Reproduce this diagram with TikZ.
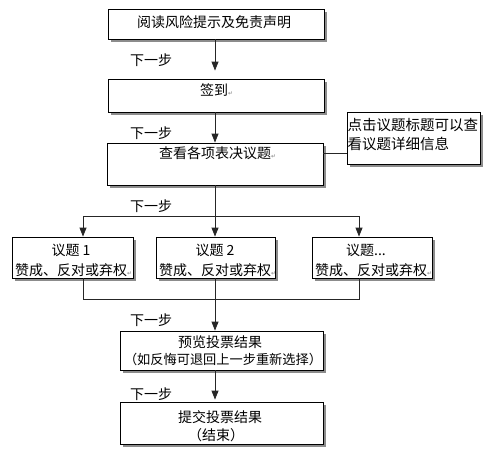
\documentclass[tikz,border=0pt]{standalone}
\usepackage{fontspec}
\usetikzlibrary{shadows,arrows.meta}
\newfontfamily\cjk{Noto Sans CJK SC}
\newfontfamily\symf{DejaVu Sans}
\newcommand{\pmark}{{\symf\fontsize{6}{7}\selectfont\textcolor{gray}{↵}}}
\begin{document}
\begin{tikzpicture}[x=1pt,y=-1pt,
  box/.style={draw=black, line width=0.8pt, fill=white, inner sep=0pt,
    drop shadow={shadow xshift=2.5pt, shadow yshift=-2.5pt, fill=black!45, opacity=1}},
  arr/.style={-{Triangle[width=7pt,length=9pt]}, line width=0.8pt, draw=black!85},
  ln/.style={line width=0.8pt, draw=black!85},
  txt/.style={font=\cjk\fontsize{14}{16}\selectfont, inner sep=0pt},
  ntxt/.style={font=\cjk\fontsize{14.5}{17}\selectfont, inner sep=0pt, anchor=west},
  stxt/.style={font=\cjk\fontsize{13.2}{16}\selectfont, inner sep=0pt}]
\useasboundingbox (0,0) rectangle (489,455);
% boxes
\node[box, minimum width=216pt, minimum height=30pt] (b1) at (216,24) {};
\node[box, minimum width=216pt, minimum height=33pt] (b2) at (216,95.5) {};
\node[box, minimum width=216pt, minimum height=42pt] (b3) at (215,164) {};
\node[box, minimum width=133pt, minimum height=52pt] (n) at (413.5,138) {};
\node[box, minimum width=121pt, minimum height=41pt] (v1) at (72.5,257.5) {};
\node[box, minimum width=119pt, minimum height=41pt] (v2) at (215.5,257.5) {};
\node[box, minimum width=120pt, minimum height=41pt] (v3) at (372,257.5) {};
\node[box, minimum width=203pt, minimum height=39pt] (b4) at (221.5,350.5) {};
\node[box, minimum width=203pt, minimum height=42pt] (b5) at (221.5,423) {};
% texts
\node[txt] (t1) at (214,22) {阅读风险提示及免责声明};
\node[txt, anchor=west] (t2) at (200,90) {签到\pmark};
\node[txt, anchor=west] (t3) at (159,153) {查看各项表决议题\pmark};
\node[ntxt] (n1) at (347.5,125) {点击议题标题可以查};
\node[ntxt] (n2) at (347.5,144) {看议题详细信息};
\node[txt] (v1a) at (71,250) {议题 1};
\node[txt, anchor=west] (v1b) at (15,270) {赞成、反对或弃权\pmark};
\node[txt] (v2a) at (215,250) {议题 2};
\node[txt, anchor=west] (v2b) at (159,270) {赞成、反对或弃权\pmark};
\node[txt] (v3a) at (366,250) {议题...};
\node[txt, anchor=west] (v3b) at (315,270) {赞成、反对或弃权\pmark};
\node[txt] (b4a) at (220,342) {预览投票结果};
\node[stxt] (b4b) at (223,359) {（如反悔可退回上一步重新选择）};
\node[txt] (b5a) at (220,417) {提交投票结果};
\node[txt] (b5b) at (216,435) {（结束）};
% step labels
\node[txt] (s1) at (151,60) {下一步};
\node[txt] (s2) at (151,133) {下一步};
\node[txt] (s3) at (151,206) {下一步};
\node[txt] (s4) at (151,320) {下一步};
\node[txt] (s5) at (151,394) {下一步};
% connectors
\coordinate (jL) at (83,216);
\coordinate (jR) at (359,216);
\coordinate (kL) at (83,299);
\coordinate (kR) at (359,299);
\draw[arr, shorten >=8pt] (b1.south -| b3.south) -- (b2.north -| b3.south);
\draw[arr] (b2.south -| b3.north) -- (b3.north);
\draw[ln] ([yshift=11pt]b3.east) -- ([yshift=-15pt]n.west);
\draw[ln] (b3.south) -- (b3.south |- jL);
\draw[ln] (jL) -- (jR);
\draw[arr] (jL) -- (jL |- v1.north);
\draw[arr] (b3.south |- jL) -- (b3.south |- v2.north);
\draw[arr] (jR) -- (jR |- v3.north);
\draw[ln] (kL |- v1.south) -- (kL) -- (kR) -- (kR |- v3.south);
\draw[arr] (b3.south |- v2.south) -- (b3.south |- b4.north);
\draw[arr, shorten >=2pt] (b3.south |- b4.south) -- (b3.south |- b5.north);
\end{tikzpicture}
\end{document}
